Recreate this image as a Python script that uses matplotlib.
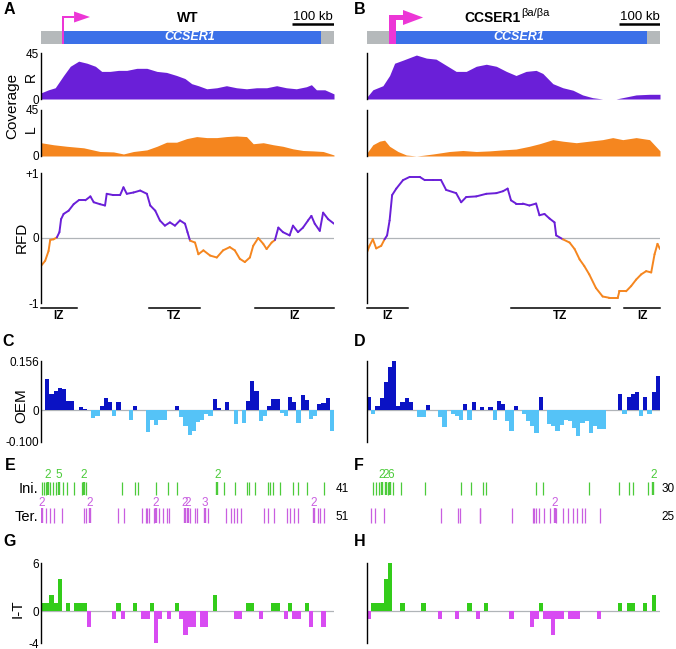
import numpy as np
import matplotlib
matplotlib.use('Agg')
import matplotlib.pyplot as plt
from matplotlib.collections import LineCollection
from matplotlib.patches import Rectangle, Polygon

plt.rcParams['font.family'] = ['Liberation Sans', 'DejaVu Sans']

# ---------------- data ----------------
# coverage (kb, reads)
wt_R_x = [0, 18, 34, 44, 54, 70, 90, 110, 130, 145, 165, 185, 205, 229, 253, 277, 300, 324, 344, 360,
          376, 396, 420, 443, 467, 491, 515, 539, 563, 586, 610, 634, 646, 658, 678, 700]
wt_R_y = [6, 9, 11, 17, 23, 32, 37, 35, 32, 27, 27, 28, 28, 30, 30, 27, 26, 23, 20, 15,
          13, 10, 11, 13, 11, 10, 11, 11, 13, 11, 10, 12, 14, 9, 9, 5]
wt_L_x = [0, 30, 62, 102, 141, 173, 197, 221, 253, 277, 300, 324, 348, 372, 396, 420, 443, 467,
          491, 507, 531, 555, 578, 602, 626, 650, 674, 700]
wt_L_y = [13, 11, 9.5, 8, 4.4, 4, 2, 4.4, 6, 9.5, 13.5, 13.5, 17, 19, 18, 18, 19, 19.6,
          19, 12, 13, 11, 9.5, 7, 5.4, 5, 4.4, 1]
mu_R_x = [0, 14, 38, 54, 66, 86, 118, 142, 165, 189, 213, 237, 261, 285, 309, 333, 356, 380, 404,
          420, 444, 468, 492, 515, 539, 563, 595, 619, 643, 675, 700]
mu_R_y = [2, 9, 13, 23, 35, 38, 43, 40, 39, 33, 27, 27, 32, 34, 32, 27, 23, 27, 28,
          25, 15, 11, 8.6, 4, 1.3, 0, 0, 2, 4, 4.6, 4.6]
mu_L_x = [0, 14, 30, 42, 54, 74, 94, 118, 134, 158, 181, 197, 229, 261, 293, 325, 356, 388, 412,
          444, 468, 500, 531, 563, 587, 611, 643, 675, 700]
mu_L_y = [3, 11, 14.5, 15.5, 9.5, 4.4, 1, 0, 0.7, 2, 3.4, 4.4, 5.4, 4.4, 5, 6, 6.8, 9.5, 12,
          16, 14.5, 13, 14.5, 16, 18, 16, 18, 16, 5]

# RFD
wt_rfd_x = [0, 10, 18, 22, 30, 38, 44, 48, 54, 66, 78, 90, 106, 118, 126, 141, 153, 157, 173, 189,
            197, 205, 221, 237, 253, 261, 273, 284, 296, 308, 320, 332, 344, 350, 356, 368, 376, 388,
            404, 420, 435, 451, 463, 475, 487, 499, 507, 519, 531, 539, 551, 559, 567, 578, 594, 602,
            614, 626, 638, 646, 654, 666, 674, 686, 700]
wt_rfd_y = [-0.43, -0.35, -0.2, -0.03, -0.02, 0.01, 0.09, 0.29, 0.37, 0.42, 0.52, 0.58, 0.58, 0.64,
            0.55, 0.52, 0.5, 0.68, 0.66, 0.66, 0.78, 0.68, 0.7, 0.73, 0.68, 0.5, 0.42, 0.27, 0.19,
            0.24, 0.19, 0.27, 0.22, 0.09, -0.04, -0.07, -0.25, -0.19, -0.27, -0.3, -0.19, -0.14,
            -0.19, -0.32, -0.37, -0.3, -0.12, 0.0, -0.09, -0.17, -0.07, -0.03, 0.16, 0.09, 0.04,
            0.19, 0.09, 0.16, 0.27, 0.34, 0.22, 0.11, 0.39, 0.29, 0.22]
mu_rfd_x = [0, 6, 14, 22, 34, 42, 48, 54, 60, 70, 86, 102, 126, 138, 158, 177, 189, 213, 225, 237,
            261, 285, 309, 325, 336, 344, 356, 372, 388, 404, 412, 424, 436, 448, 452, 468, 484, 496,
            508, 519, 531, 547, 563, 579, 599, 603, 619, 631, 643, 655, 667, 679, 687, 694, 700]
mu_rfd_y = [-0.22, -0.12, -0.02, -0.16, -0.12, -0.02, 0.04, 0.27, 0.66, 0.76, 0.89, 0.94, 0.94,
            0.89, 0.89, 0.89, 0.74, 0.69, 0.55, 0.63, 0.64, 0.68, 0.69, 0.72, 0.76, 0.58, 0.53,
            0.53, 0.5, 0.53, 0.35, 0.37, 0.3, 0.24, 0.04, -0.02, -0.07, -0.17, -0.33, -0.43, -0.56,
            -0.77, -0.9, -0.92, -0.92, -0.82, -0.82, -0.74, -0.64, -0.56, -0.51, -0.53, -0.25,
            -0.09, -0.17]

# zones (start kb, end kb, label)
wt_zone_start = [0, 258, 512]
wt_zone_end = [85, 380, 700]
wt_zone_lab = ['IZ', 'TZ', 'IZ']
mu_zone_start = [0, 344, 615]
mu_zone_end = [98, 580, 700]
mu_zone_lab = ['IZ', 'TZ', 'IZ']

# OEM per 10-kb bin
wt_oem = [0, 0.099, 0.053, 0.062, 0.070, 0.067, 0.030, 0.030, 0, 0.011,
          0.004, 0, -0.023, -0.018, 0.014, 0.038, 0.028, -0.018, 0.028, 0,
          0, -0.030, 0.013, 0, 0, -0.068, -0.029, -0.045, -0.029, -0.032,
          0, 0, 0.015, -0.021, -0.050, -0.077, -0.064, -0.036, -0.029, -0.013,
          -0.018, 0.035, 0.009, 0, 0.026, 0, -0.044, 0, -0.040, 0.030,
          0.094, 0.060, -0.033, -0.018, 0.014, 0.036, 0.036, -0.008, -0.018, 0.043,
          0.026, -0.040, 0.049, 0.034, -0.026, -0.018, 0.021, 0.022, 0.038, -0.066]
mu_oem = [0.043, -0.013, 0.013, 0.038, 0.089, 0.137, 0.156, 0.014, 0.025, 0.038,
          0.027, 0, -0.020, -0.020, 0.016, 0, 0, -0.020, -0.053, 0,
          -0.011, -0.018, -0.032, 0.019, -0.029, 0.025, 0, 0.011, 0, 0.011,
          -0.029, 0.030, 0.019, -0.034, -0.064, 0.013, 0, -0.013, -0.034, -0.051,
          -0.072, 0.041, 0, -0.043, -0.050, -0.066, -0.045, -0.029, -0.034, -0.056,
          -0.082, -0.040, -0.034, -0.072, -0.050, -0.058, -0.058, 0, 0, 0,
          0.051, -0.013, 0.043, 0.053, 0.057, -0.018, 0.043, -0.011, 0.057, 0.110]

# initiation / termination events (kb position, count)
wt_ini_pos = [2, 7, 12, 17, 22, 28, 37, 42, 52, 62, 79, 99, 103, 108, 193, 225, 231, 274, 304, 324,
              421, 437, 463, 491, 497, 512, 543, 548, 555, 571, 602, 613, 636, 675]
wt_ini_cnt = [1, 1, 1, 2, 1, 1, 1, 5, 1, 1, 1, 1, 2, 1, 1, 1, 1, 1, 1, 1,
              2, 1, 1, 1, 1, 1, 1, 1, 1, 1, 1, 1, 1, 1]
wt_ter_pos = [2, 12, 22, 32, 50, 102, 108, 116, 185, 199, 241, 250, 253, 258, 270, 275, 282, 292,
              300, 306, 344, 350, 356, 368, 373, 392, 400, 443, 453, 462, 469, 479, 532, 543, 556,
              588, 596, 604, 613, 652, 662, 667, 675]
wt_ter_cnt = [2, 1, 1, 1, 1, 1, 1, 2, 1, 1, 1, 1, 1, 1, 1, 2, 1, 1,
              1, 1, 2, 2, 1, 1, 1, 3, 1, 1, 1, 1, 1, 1, 1, 1, 1,
              1, 1, 1, 1, 2, 1, 1, 1]
mu_ini_pos = [14, 21, 29, 35, 45, 50, 56, 62, 82, 138, 225, 249, 277, 285, 404, 420, 530, 601, 627,
              635, 671, 684]
mu_ini_cnt = [1, 1, 1, 2, 2, 1, 6, 1, 1, 1, 1, 1, 1, 1, 1, 1, 1, 1, 1, 1, 1, 2]
mu_ter_pos = [10, 18, 41, 177, 217, 223, 269, 271, 347, 396, 400, 404, 412, 424, 438, 448, 452, 468,
              480, 493, 501, 513, 522, 557]
mu_ter_cnt = [1, 1, 1, 1, 1, 1, 1, 1, 1, 1, 1, 1, 1, 1, 1, 2, 1, 1, 1, 1, 1, 1, 1, 1]
wt_ini_total, wt_ter_total = 41, 51
mu_ini_total, mu_ter_total = 30, 25

# I-T per 10-kb bin
wt_it = [1, 1, 2, 1, 4, 0, 1, 0, 1, 1, 1, -2, 0, 0, 0, 0, 0, -1, 1, -1,
         0, 0, 1, 0, -1, -1, 1, -4, -1, 0, -1, 0, 1, -1, -3, -2, -2, 0, -2, -2,
         0, 2, 0, 0, 0, 0, -1, -1, 0, 1, 1, 0, -1, 0, 0, 1, 1, 0, -1, 1,
         -1, -1, 0, 1, -2, 0, 0, -2, 0, 0]
mu_it = [-1, 1, 1, 1, 4, 6, 0, 0, 1, 0, 0, 0, 0, 1, 0, 0, 0, -1, 0, 0,
         0, -1, 0, 0, 1, 0, -1, 0, 1, 0, 0, 0, 0, 0, -1, 0, 0, 0, 0, -2,
         -1, 1, -1, -1, -3, -1, -1, 0, -1, -1, -1, 0, 0, 0, 0, -1, 0, 0, 0, 0,
         1, 0, 1, 1, 0, 0, 1, 0, 2, 0]

# ---------------- styling ----------------
PURPLE = '#6a1fd8'
ORANGE = '#f5861f'
BLUE_GENE = '#3b70e8'
GRAY_GENE = '#b5b9bb'
MAGENTA = '#ec36d6'
OEM_POS = '#0a12c4'
OEM_NEG = '#55c3f7'
INI_C = '#4ccb3a'
TER_C = '#c95fe0'
IT_POS = '#33cc1a'
IT_NEG = '#d84cf2'
ZERO_C = '#b0b4b8'

W, H = 676, 649
fig = plt.figure(figsize=(W / 100, H / 100), dpi=100)


def add_ax(x0, y0, x1, y1):
    return fig.add_axes([x0 / W, 1 - y1 / H, (x1 - x0) / W, (y1 - y0) / H])


def ftext(x, y, s, **kw):
    fig.text(x / W, 1 - y / H, s, **kw)


def style_left(ax, show_labels, ticks, labels):
    for s in ['top', 'right', 'bottom']:
        ax.spines[s].set_visible(False)
    ax.spines['left'].set_linewidth(1.0)
    ax.set_xticks([])
    ax.set_yticks(ticks)
    if show_labels:
        ax.set_yticklabels(labels, fontsize=8.5)
    else:
        ax.set_yticklabels([])
    ax.tick_params(axis='y', length=0, pad=1.5)
    ax.set_xlim(0, 700)
    ax.patch.set_alpha(0)


cols = [(41, 334), (367, 660)]

# gene tracks
for ci, (x0, x1) in enumerate(cols):
    ax = add_ax(x0, 3, x1, 45)
    ax.set_xlim(0, 700)
    ax.set_ylim(45, 3)
    ax.axis('off')
    ax.add_patch(Rectangle((0, 31), 700, 13, color=GRAY_GENE, lw=0))
    if ci == 0:
        ax.add_patch(Rectangle((50, 31), 669 - 50, 13, color=BLUE_GENE, lw=0))
        ax.add_patch(Rectangle((50, 16), 5, 28, color=MAGENTA, lw=0))
        ax.add_patch(Rectangle((50, 16), 79 - 50, 2.2, color=MAGENTA, lw=0))
        ax.add_patch(Polygon([(79, 11.5), (117, 17), (79, 22.5)], closed=True, color=MAGENTA, lw=0))
        ax.plot([600, 700], [24, 24], color='black', lw=1.8, solid_capstyle='butt')
        ax.text(650, 17.5, '100 kb', ha='center', va='center', fontsize=9.5)
        ax.text(355, 37.5, 'CCSER1', ha='center', va='center', color='white',
                fontsize=9, fontweight='bold', fontstyle='italic')
    else:
        ax.add_patch(Rectangle((52, 31), 669 - 52, 13, color=BLUE_GENE, lw=0))
        ax.add_patch(Rectangle((52, 15), 17, 29, color=MAGENTA, lw=0))
        ax.add_patch(Rectangle((52, 15), 88 - 52, 5, color=MAGENTA, lw=0))
        ax.add_patch(Polygon([(86, 10), (134, 17.5), (86, 25)], closed=True, color=MAGENTA, lw=0))
        ax.plot([602, 700], [24, 24], color='black', lw=1.8, solid_capstyle='butt')
        ax.text(651, 17.5, '100 kb', ha='center', va='center', fontsize=9.5)
        ax.text(362, 37.5, 'CCSER1', ha='center', va='center', color='white',
                fontsize=9, fontweight='bold', fontstyle='italic')

ftext(188, 18, 'WT', ha='center', va='center', fontsize=10, fontweight='bold')
ftext(521, 18, 'CCSER1', ha='right', va='center', fontsize=10, fontweight='bold')
ftext(521.5, 12.5, 'βa/βa', ha='left', va='center', fontsize=8)

# coverage
covs = [((wt_R_x, wt_R_y), (wt_L_x, wt_L_y)), ((mu_R_x, mu_R_y), (mu_L_x, mu_L_y))]
for ci, (x0, x1) in enumerate(cols):
    (rx, ry), (lx, ly) = covs[ci]
    axr = add_ax(x0, 53, x1, 99)
    axr.fill_between(rx, 0, ry, color=PURPLE, lw=0)
    axr.set_ylim(0, 45)
    style_left(axr, ci == 0, [0, 45], ['0', '45'])
    axl = add_ax(x0, 110, x1, 156)
    axl.fill_between(lx, 0, ly, color=ORANGE, lw=0)
    axl.set_ylim(0, 45)
    style_left(axl, ci == 0, [0, 45], ['0', '45'])

ftext(12, 106, 'Coverage', rotation=90, ha='center', va='center', fontsize=11)
ftext(31, 77, 'R', rotation=90, ha='center', va='center', fontsize=10)
ftext(31, 129, 'L', rotation=90, ha='center', va='center', fontsize=10)

# RFD
rfds = [(wt_rfd_x, wt_rfd_y), (mu_rfd_x, mu_rfd_y)]
zones = [(wt_zone_start, wt_zone_end, wt_zone_lab), (mu_zone_start, mu_zone_end, mu_zone_lab)]
for ci, (x0, x1) in enumerate(cols):
    ax = add_ax(x0, 173, x1, 303)
    ax.set_ylim(-1, 1)
    style_left(ax, ci == 0, [-1, 0, 1], ['-1', '0', '+1'])
    ax.axhline(0, color=ZERO_C, lw=0.9, zorder=1)
    xs, ys = rfds[ci]
    segs, colors = [], []
    for i in range(len(xs) - 1):
        segs.append([(xs[i], ys[i]), (xs[i + 1], ys[i + 1])])
        colors.append(PURPLE if (ys[i] + ys[i + 1]) / 2 >= 0 else ORANGE)
    ax.add_collection(LineCollection(segs, colors=colors, linewidths=1.4, zorder=2,
                                     capstyle='round'))
    zs, ze, zl = zones[ci]
    for a, b, lab in zip(zs, ze, zl):
        ax.plot([a, b], [-1.077, -1.077], color='black', lw=1.1, clip_on=False)
        ax.text((a + b) / 2, -1.2, lab, ha='center', va='center', fontsize=8.5,
                fontweight='bold')

ftext(21.5, 237, 'RFD', rotation=90, ha='center', va='center', fontsize=11)

# OEM
oems = [wt_oem, mu_oem]
for ci, (x0, x1) in enumerate(cols):
    ax = add_ax(x0, 361, x1, 442)
    ax.set_ylim(-0.100, 0.156)
    style_left(ax, ci == 0, [-0.100, 0, 0.156], ['-0.100', '0', '0.156'])
    vals = np.array(oems[ci])
    xb = np.arange(len(vals)) * 10
    ax.bar(xb, vals, width=10, align='edge',
           color=[OEM_POS if v >= 0 else OEM_NEG for v in vals], lw=0, zorder=2)
    ax.axhline(0, color=ZERO_C, lw=0.9, zorder=1)

ftext(21, 406, 'OEM', rotation=90, ha='center', va='center', fontsize=11)

# events
events = [(wt_ini_pos, wt_ini_cnt, wt_ter_pos, wt_ter_cnt, wt_ini_total, wt_ter_total),
          (mu_ini_pos, mu_ini_cnt, mu_ter_pos, mu_ter_cnt, mu_ini_total, mu_ter_total)]
for ci, (x0, x1) in enumerate(cols):
    ax = add_ax(x0, 466, x1, 526)
    ax.set_xlim(0, 700)
    ax.set_ylim(526, 466)
    ax.axis('off')
    ip, ic, tp, tc, itot, ttot = events[ci]
    for p, c in zip(ip, ic):
        ax.plot([p, p], [482, 495], color=INI_C, lw=0.9 if c == 1 else 1.7,
                solid_capstyle='butt')
        if c > 1:
            ax.text(p, 475.5, str(c), ha='center', va='center', color=INI_C, fontsize=8.5)
    for p, c in zip(tp, tc):
        ax.plot([p, p], [508, 523], color=TER_C, lw=0.9 if c == 1 else 1.7,
                solid_capstyle='butt')
        if c > 1:
            ax.text(p, 503.5, str(c), ha='center', va='center', color=TER_C, fontsize=8.5)
    ax.text(703, 489, str(itot), ha='left', va='center', fontsize=8.5, clip_on=False)
    ax.text(703, 517, str(ttot), ha='left', va='center', fontsize=8.5, clip_on=False)

ftext(38, 489, 'Ini.', ha='right', va='center', fontsize=10.5)
ftext(38, 517, 'Ter.', ha='right', va='center', fontsize=10.5)

# I-T
its = [wt_it, mu_it]
for ci, (x0, x1) in enumerate(cols):
    ax = add_ax(x0, 563, x1, 643)
    ax.set_ylim(-4, 6)
    style_left(ax, ci == 0, [-4, 0, 6], ['-4', '0', '6'])
    vals = np.array(its[ci])
    xb = np.arange(len(vals)) * 10
    ax.bar(xb, vals, width=10, align='edge',
           color=[IT_POS if v >= 0 else IT_NEG for v in vals], lw=0, zorder=2)
    ax.axhline(0, color=ZERO_C, lw=0.9, zorder=1)

ftext(18, 609, 'I-T', rotation=90, ha='center', va='center', fontsize=11)

# panel letters
for lab, x, y in [('A', 9, 9), ('B', 360, 9), ('C', 8, 341), ('D', 360, 341),
                  ('E', 10, 466), ('F', 359, 466), ('G', 10, 542), ('H', 360, 542)]:
    ftext(x, y, lab, ha='center', va='center', fontsize=11.5, fontweight='bold')

fig.savefig('out.png', dpi=100)
